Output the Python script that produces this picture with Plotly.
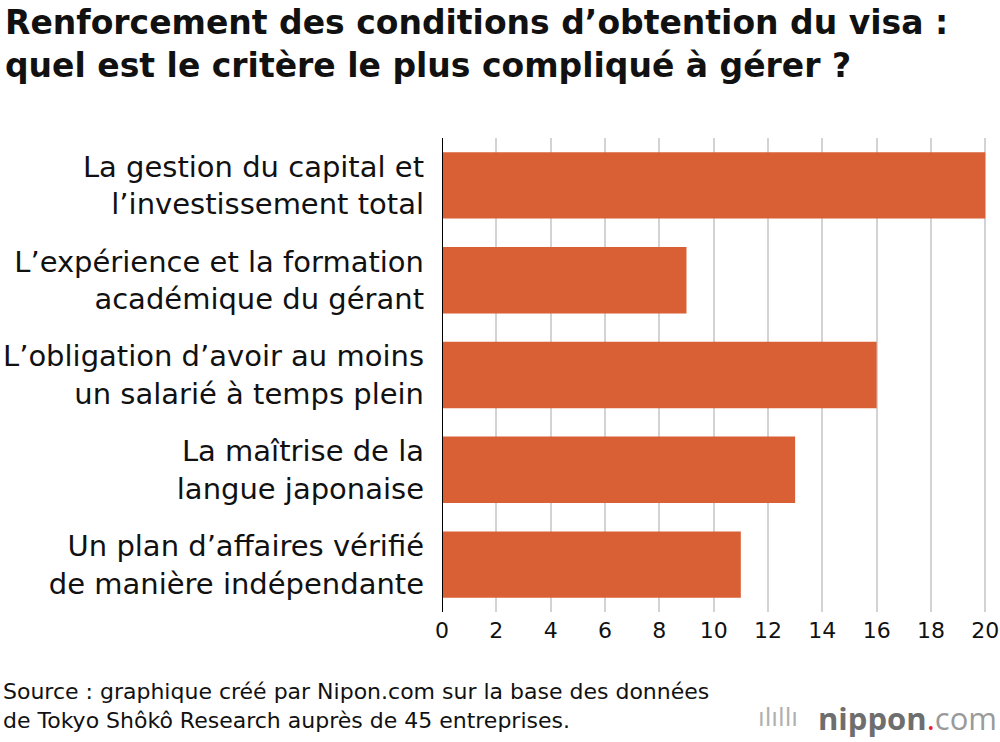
import plotly.graph_objects as go

categories = [
    "La gestion du capital et<br>l’investissement total",
    "L’expérience et la formation<br>académique du gérant",
    "L’obligation d’avoir au moins<br>un salarié à temps plein",
    "La maîtrise de la<br>langue japonaise",
    "Un plan d’affaires vérifié<br>de manière indépendante",
]
values = [20, 9, 16, 13, 11]
x_ticks = list(range(0, 21, 2))

title_text = "Renforcement des conditions d’obtention du visa :<br>quel est le critère le plus compliqué à gérer ?"
source_text = "Source : graphique créé par Nipon.com sur la base des données<br>de Tokyo Shôkô Research auprès de 45 entreprises."

BAR_COLOR = "#D95F35"
FONT = "DejaVu Sans, Liberation Sans, Arial, sans-serif"

W, H = 1000, 742
plot_l, plot_r, plot_t, plot_b = 442, 988, 138, 612
pw, ph = plot_r - plot_l, plot_b - plot_t


def px(xp):
    return (xp - plot_l) / pw


def py(yp):
    return (plot_b - yp) / ph


fig = go.Figure(go.Bar(
    x=values, y=categories, orientation="h",
    marker=dict(color=BAR_COLOR, line=dict(width=0)),
    width=0.7,
))

fig.update_layout(
    width=W, height=H,
    margin=dict(l=plot_l, r=W - plot_r, t=plot_t, b=H - plot_b, pad=0),
    paper_bgcolor="white", plot_bgcolor="white",
    showlegend=False,
    font=dict(family=FONT, color="#111111"),
    xaxis=dict(
        range=[0, 20.1], tickvals=x_ticks, ticktext=[str(v) for v in x_ticks],
        showgrid=True, gridcolor="#d3d3d3", gridwidth=2,
        zeroline=False, showline=False, ticks="", automargin=False,
        tickfont=dict(size=22, family=FONT, color="#111111"),
        ticklabelstandoff=3,
    ),
    yaxis=dict(
        autorange="reversed", showgrid=False, zeroline=False,
        showline=False, ticks="", automargin=False,
        tickfont=dict(size=29, family=FONT, color="#111111"),
        ticklabelstandoff=17,
    ),
    shapes=[dict(type="line", xref="x", yref="paper", x0=0, x1=0, y0=0, y1=1,
                 line=dict(color="black", width=2))],
    annotations=[
        dict(text="<b>" + title_text + "</b>", x=px(3), y=py(1), xref="paper", yref="paper",
             showarrow=False, align="left", xanchor="left", yanchor="top",
             font=dict(size=33, family=FONT, color="#111111")),
        dict(text=source_text, x=px(1), y=py(677), xref="paper", yref="paper", showarrow=False,
             align="left", xanchor="left", yanchor="top",
             font=dict(size=22, family=FONT, color="#111111")),
        dict(text="<b>nippon</b><span style='color:#E8212B'>.</span><span style='color:#9a9a9a'>com</span>",
             x=px(999), y=py(718), xref="paper", yref="paper", showarrow=False,
             xanchor="right", yanchor="middle",
             font=dict(size=31, family="Open Sans, sans-serif", color="#6e6e6e")),
        dict(text="ılıllı", x=px(800), y=py(718), xref="paper", yref="paper", showarrow=False,
             xanchor="right", yanchor="middle",
             font=dict(size=24, family="DejaVu Sans", color="#b0b0b0")),
    ],
)

fig.write_html("out.html")
